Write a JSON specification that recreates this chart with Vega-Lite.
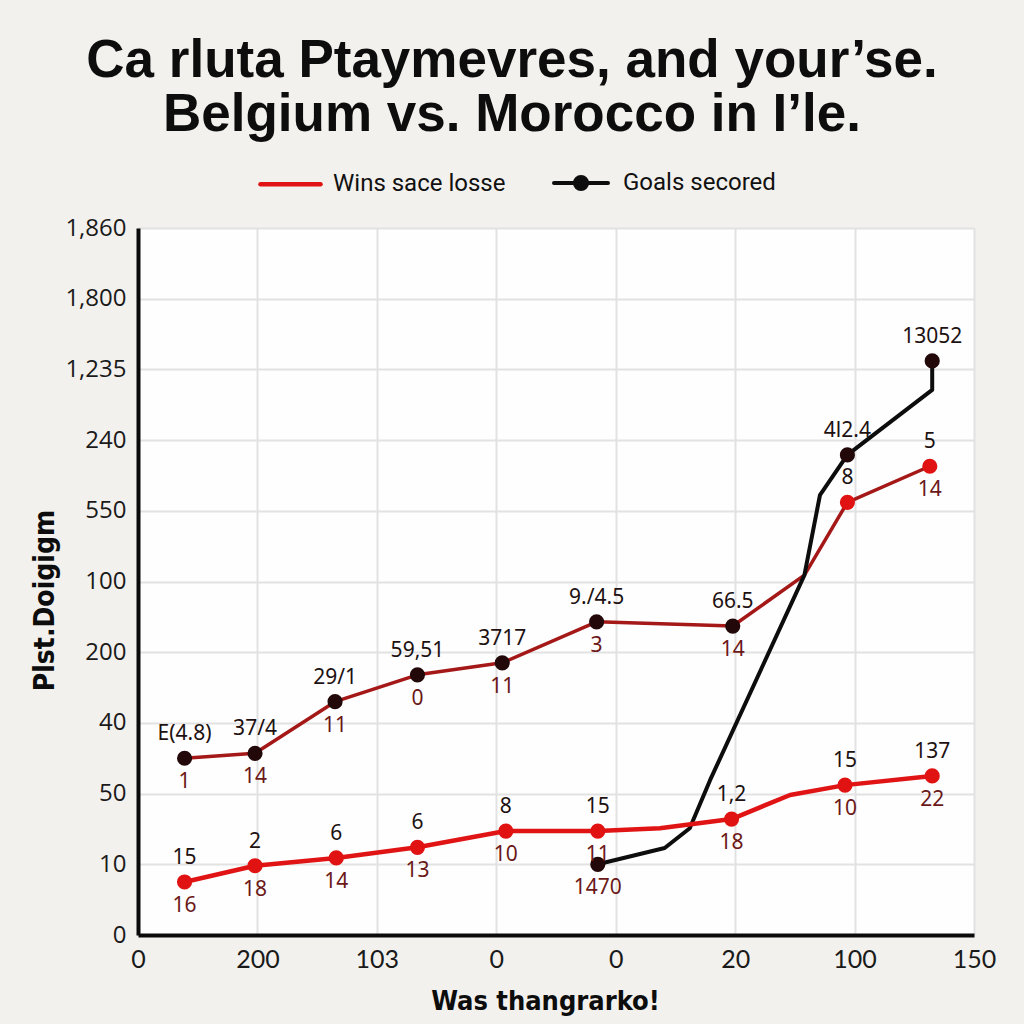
{
  "$schema": "https://vega.github.io/schema/vega-lite/v6.json",
  "width": 836,
  "height": 707,
  "autosize": {"type": "none"},
  "padding": {"left": 138, "top": 228, "right": 50, "bottom": 89},
  "background": "#f3f1ed",
  "title": {
    "text": ["Ca rluta Ptaymevres, and your’se.", "Belgium vs. Morocco in I’le."],
    "anchor": "middle",
    "frame": "group",
    "dx": -44,
    "dy": 131,
    "offset": 98,
    "baseline": "alphabetic",
    "lineHeight": 54,
    "font": "Liberation Sans",
    "fontSize": 53,
    "fontWeight": "bold",
    "color": "#0d0d0d"
  },
  "config": {
    "view": {"stroke": null, "fill": "#fefefe"},
    "axis": {"gridColor": "#e2e2e2", "gridWidth": 2, "domainColor": "#0a0a0a", "domainWidth": 4, "ticks": false}
  },
  "data": {
    "values": [
      {"series": "Upper", "i": 1, "x": 0.39, "y": 2.50, "mk": "dark", "top": "E(4.8)", "bottom": "1"},
      {"series": "Upper", "i": 2, "x": 0.98, "y": 2.57, "mk": "dark", "top": "37/4", "bottom": "14"},
      {"series": "Upper", "i": 3, "x": 1.65, "y": 3.30, "mk": "dark", "top": "29/1", "bottom": "11"},
      {"series": "Upper", "i": 4, "x": 2.34, "y": 3.68, "mk": "dark", "top": "59,51", "bottom": "0"},
      {"series": "Upper", "i": 5, "x": 3.05, "y": 3.85, "mk": "dark", "top": "3717", "bottom": "11"},
      {"series": "Upper", "i": 6, "x": 3.84, "y": 4.43, "mk": "dark", "top": "9./4.5", "bottom": "3"},
      {"series": "Upper", "i": 7, "x": 4.98, "y": 4.37, "mk": "dark", "top": "66.5", "bottom": "14"},
      {"series": "Upper", "i": 8, "x": 5.58, "y": 5.09, "mk": "none", "top": null, "bottom": null},
      {"series": "Upper", "i": 9, "x": 5.94, "y": 6.12, "mk": "red", "top": "8", "bottom": null},
      {"series": "Upper", "i": 10, "x": 6.63, "y": 6.63, "mk": "red", "top": "5", "bottom": "14"},
      {"series": "Goals secored", "i": 1, "x": 3.85, "y": 1.00, "mk": "dark", "top": null, "bottom": "1470"},
      {"series": "Goals secored", "i": 2, "x": 4.41, "y": 1.23, "mk": "none", "top": null, "bottom": null},
      {"series": "Goals secored", "i": 3, "x": 4.62, "y": 1.51, "mk": "none", "top": null, "bottom": null},
      {"series": "Goals secored", "i": 4, "x": 4.79, "y": 2.19, "mk": "none", "top": null, "bottom": null},
      {"series": "Goals secored", "i": 5, "x": 5.58, "y": 5.09, "mk": "none", "top": null, "bottom": null},
      {"series": "Goals secored", "i": 6, "x": 5.71, "y": 6.22, "mk": "none", "top": null, "bottom": null},
      {"series": "Goals secored", "i": 7, "x": 5.94, "y": 6.79, "mk": "dark", "top": "4l2.4", "bottom": null},
      {"series": "Goals secored", "i": 8, "x": 6.65, "y": 7.71, "mk": "none", "top": null, "bottom": null},
      {"series": "Goals secored", "i": 9, "x": 6.65, "y": 8.12, "mk": "dark", "top": "13052", "bottom": null},
      {"series": "Wins sace losse", "i": 1, "x": 0.39, "y": 0.75, "mk": "red", "top": "15", "bottom": "16"},
      {"series": "Wins sace losse", "i": 2, "x": 0.98, "y": 0.98, "mk": "red", "top": "2", "bottom": "18"},
      {"series": "Wins sace losse", "i": 3, "x": 1.66, "y": 1.09, "mk": "red", "top": "6", "bottom": "14"},
      {"series": "Wins sace losse", "i": 4, "x": 2.34, "y": 1.24, "mk": "red", "top": "6", "bottom": "13"},
      {"series": "Wins sace losse", "i": 5, "x": 3.08, "y": 1.47, "mk": "red", "top": "8", "bottom": "10"},
      {"series": "Wins sace losse", "i": 6, "x": 3.85, "y": 1.47, "mk": "red", "top": "15", "bottom": "11"},
      {"series": "Wins sace losse", "i": 7, "x": 4.37, "y": 1.51, "mk": "none", "top": null, "bottom": null},
      {"series": "Wins sace losse", "i": 8, "x": 4.97, "y": 1.64, "mk": "red", "top": "1,2", "bottom": "18"},
      {"series": "Wins sace losse", "i": 9, "x": 5.46, "y": 1.98, "mk": "none", "top": null, "bottom": null},
      {"series": "Wins sace losse", "i": 10, "x": 5.92, "y": 2.12, "mk": "red", "top": "15", "bottom": "10"},
      {"series": "Wins sace losse", "i": 11, "x": 6.65, "y": 2.25, "mk": "red", "top": "137", "bottom": "22"}
    ]
  },
  "encoding": {
    "x": {
      "field": "x", "type": "quantitative",
      "scale": {"domain": [0, 7], "nice": false, "zero": false},
      "axis": {
        "values": [0, 1, 2, 3, 4, 5, 6, 7],
        "labelExpr": "['0','200','103','0','0','20','100','150'][datum.value]",
        "labelFont": "Lato", "labelFontSize": 25, "labelColor": "#1a1a1a", "labelPadding": 12,
        "labelFlush": false, "labelOverlap": false,
        "title": "Was thangrarko!", "titleFont": "DejaVu Sans Condensed, Roboto", "titleFontSize": 27,
        "titleFontWeight": "bold", "titleColor": "#0d0d0d",
        "titleX": 407, "titleY": 66, "titleBaseline": "middle", "titleAlign": "center"
      }
    },
    "y": {
      "field": "y", "type": "quantitative",
      "scale": {"domain": [0, 10], "nice": false, "zero": false},
      "axis": {
        "values": [0, 1, 2, 3, 4, 5, 6, 7, 8, 9, 10],
        "labelExpr": "['0','10','50','40','200','100','550','240','1,235','1,800','1,860'][datum.value]",
        "labelFont": "Open Sans", "labelFontSize": 24, "labelColor": "#1a1a1a", "labelPadding": 12,
        "labelFlush": false, "labelOverlap": false,
        "title": "Plst.Doigigm", "titleFont": "DejaVu Sans Condensed, Roboto", "titleFontSize": 28,
        "titleFontWeight": "bold", "titleColor": "#0d0d0d",
        "titleAngle": -90, "titleX": -93, "titleY": 372, "titleBaseline": "middle", "titleAlign": "center"
      }
    }
  },
  "layer": [
    {
      "mark": {"type": "line", "strokeCap": "round", "strokeJoin": "round"},
      "encoding": {
        "color": {
          "field": "series", "type": "nominal",
          "scale": {"domain": ["Wins sace losse", "Goals secored", "Upper"], "range": ["#e01414", "#0d0d0d", "#a51818"]},
          "legend": {
            "orient": "none", "legendX": 120, "legendY": -77, "direction": "horizontal",
            "values": ["Wins sace losse", "Goals secored"], "title": null, "padding": 0,
            "symbolType": "stroke", "symbolSize": 3600, "symbolStrokeWidth": 10,
            "labelFont": "Roboto", "labelFontSize": 24, "labelColor": "#111111", "labelLimit": 400,
            "labelOffset": 10, "columnPadding": 40,
            "encode": {
              "symbols": {
                "update": {
                  "shape": {"signal": "datum.value === 'Goals secored' ? 'M-0.9,0L0.9,0M-0.2,0A0.2,0.2,0,1,0,0.2,0A0.2,0.2,0,1,0,-0.2,0' : 'stroke'"},
                  "strokeWidth": {"signal": "datum.value === 'Goals secored' ? 4 : 11"},
                  "fill": {"signal": "datum.value === 'Goals secored' ? '#0d0d0d' : 'transparent'"},
                  "strokeCap": {"value": "round"}
                }
              }
            }
          }
        },
        "strokeWidth": {
          "field": "series", "type": "nominal",
          "scale": {"domain": ["Wins sace losse", "Goals secored", "Upper"], "range": [4.5, 3.5, 3.5]},
          "legend": null
        },
        "order": {"field": "i", "type": "quantitative"}
      }
    },
    {
      "transform": [{"filter": "datum.mk !== 'none'"}],
      "mark": {"type": "point", "shape": "circle", "filled": true, "opacity": 1, "size": 230},
      "encoding": {
        "fill": {
          "field": "mk", "type": "nominal",
          "scale": {"domain": ["dark", "red"], "range": ["#220808", "#e01212"]},
          "legend": null
        }
      }
    },
    {
      "transform": [{"filter": "datum.top != null"}],
      "mark": {"type": "text", "dy": -24, "baseline": "middle", "font": "Noto Sans", "fontSize": 21, "color": "#1d1111"},
      "encoding": {"text": {"field": "top"}}
    },
    {
      "transform": [{"filter": "datum.bottom != null"}],
      "mark": {"type": "text", "dy": 24, "baseline": "middle", "font": "Noto Sans", "fontSize": 21, "color": "#6b1818"},
      "encoding": {"text": {"field": "bottom"}}
    }
  ]
}
